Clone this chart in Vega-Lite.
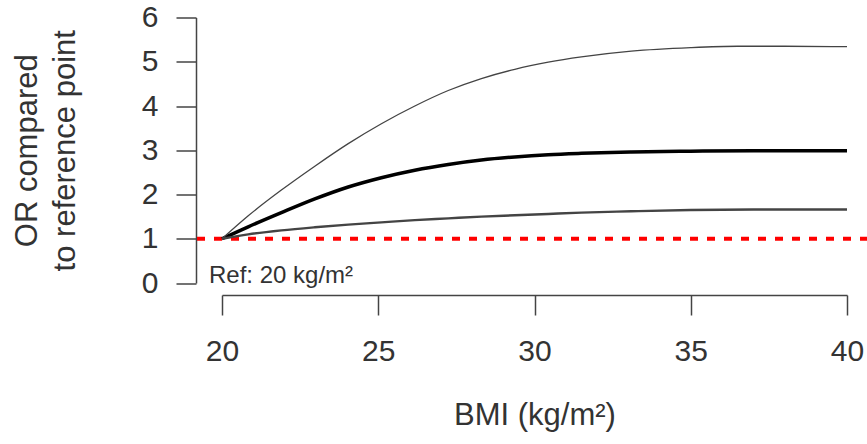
{
  "$schema": "https://vega.github.io/schema/vega-lite/v6.json",
  "autosize": "none",
  "width": 625,
  "height": 265.5,
  "padding": {"left": 222, "top": 17.5, "right": 20, "bottom": 161},
  "background": "white",
  "config": {
    "view": {"stroke": null},
    "font": "Liberation Sans",
    "axis": {"grid": false, "labelFont": "Liberation Sans", "titleFont": "Liberation Sans", "labelFontSize": 30, "titleFontSize": 31, "labelColor": "#333", "titleColor": "#333", "titleFontWeight": "normal", "domainColor": "#444", "tickColor": "#444", "domainWidth": 1.5, "tickWidth": 1.5, "tickSize": 20, "labelFlush": false}
  },
  "datasets": {
    "curves": [
      {"bmi": 20, "or": 1, "series": "Estimate"},
      {"bmi": 20.84, "or": 1.27, "series": "Estimate"},
      {"bmi": 21.9, "or": 1.59, "series": "Estimate"},
      {"bmi": 22.97, "or": 1.9, "series": "Estimate"},
      {"bmi": 24.04, "or": 2.17, "series": "Estimate"},
      {"bmi": 25.1, "or": 2.38, "series": "Estimate"},
      {"bmi": 26.17, "or": 2.55, "series": "Estimate"},
      {"bmi": 27.24, "or": 2.68, "series": "Estimate"},
      {"bmi": 28.3, "or": 2.78, "series": "Estimate"},
      {"bmi": 29.37, "or": 2.85, "series": "Estimate"},
      {"bmi": 30.44, "or": 2.9, "series": "Estimate"},
      {"bmi": 31.5, "or": 2.93, "series": "Estimate"},
      {"bmi": 33.1, "or": 2.96, "series": "Estimate"},
      {"bmi": 35, "or": 2.98, "series": "Estimate"},
      {"bmi": 37, "or": 2.99, "series": "Estimate"},
      {"bmi": 40, "or": 2.99, "series": "Estimate"},
      {"bmi": 20, "or": 1, "series": "Upper"},
      {"bmi": 20.84, "or": 1.52, "series": "Upper"},
      {"bmi": 21.9, "or": 2.1, "series": "Upper"},
      {"bmi": 22.97, "or": 2.64, "series": "Upper"},
      {"bmi": 24.04, "or": 3.15, "series": "Upper"},
      {"bmi": 25.1, "or": 3.6, "series": "Upper"},
      {"bmi": 26.17, "or": 4.0, "series": "Upper"},
      {"bmi": 27.24, "or": 4.35, "series": "Upper"},
      {"bmi": 28.3, "or": 4.62, "series": "Upper"},
      {"bmi": 29.37, "or": 4.83, "series": "Upper"},
      {"bmi": 30.44, "or": 4.99, "series": "Upper"},
      {"bmi": 31.5, "or": 5.11, "series": "Upper"},
      {"bmi": 33.1, "or": 5.24, "series": "Upper"},
      {"bmi": 35, "or": 5.32, "series": "Upper"},
      {"bmi": 36.5, "or": 5.35, "series": "Upper"},
      {"bmi": 38, "or": 5.35, "series": "Upper"},
      {"bmi": 40, "or": 5.34, "series": "Upper"},
      {"bmi": 20, "or": 1, "series": "Lower"},
      {"bmi": 20.84, "or": 1.1, "series": "Lower"},
      {"bmi": 21.9, "or": 1.19, "series": "Lower"},
      {"bmi": 22.97, "or": 1.26, "series": "Lower"},
      {"bmi": 24.04, "or": 1.32, "series": "Lower"},
      {"bmi": 25.1, "or": 1.37, "series": "Lower"},
      {"bmi": 26.17, "or": 1.42, "series": "Lower"},
      {"bmi": 27.24, "or": 1.46, "series": "Lower"},
      {"bmi": 28.3, "or": 1.5, "series": "Lower"},
      {"bmi": 29.37, "or": 1.53, "series": "Lower"},
      {"bmi": 30.44, "or": 1.56, "series": "Lower"},
      {"bmi": 31.5, "or": 1.59, "series": "Lower"},
      {"bmi": 33.1, "or": 1.62, "series": "Lower"},
      {"bmi": 35, "or": 1.65, "series": "Lower"},
      {"bmi": 37, "or": 1.66, "series": "Lower"},
      {"bmi": 40, "or": 1.66, "series": "Lower"}
    ],
    "refline": [{"or": 1, "start": 19.2, "end": 40.8}],
    "note": [{"bmi": 20, "or": 0, "label": "Ref: 20 kg/m²"}]
  },
  "layer": [
    {
      "data": {"name": "refline"},
      "mark": {"type": "rule", "color": "#ff0000", "strokeWidth": 4, "strokeDash": [8, 9]},
      "encoding": {
        "x": {"field": "start", "type": "quantitative"},
        "x2": {"field": "end"},
        "y": {"field": "or", "type": "quantitative"}
      }
    },
    {
      "data": {"name": "curves"},
      "mark": {"type": "line", "interpolate": "monotone"},
      "encoding": {
        "x": {
          "field": "bmi", "type": "quantitative",
          "scale": {"domain": [20, 40], "nice": false, "zero": false},
          "axis": {"values": [20, 25, 30, 35, 40], "title": "BMI (kg/m²)", "offset": 12, "labelPadding": 21, "titlePadding": 34}
        },
        "y": {
          "field": "or", "type": "quantitative",
          "scale": {"domain": [0, 6], "nice": false},
          "axis": {"values": [0, 1, 2, 3, 4, 5, 6], "title": ["OR compared", "to reference point"], "titleLineHeight": 38, "offset": 26, "labelPadding": 18, "titlePadding": 60}
        },
        "detail": {"field": "series"},
        "color": {"field": "series", "type": "nominal", "scale": {"domain": ["Estimate", "Lower", "Upper"], "range": ["#000000", "#444444", "#444444"]}, "legend": null},
        "strokeWidth": {"field": "series", "type": "nominal", "scale": {"domain": ["Estimate", "Lower", "Upper"], "range": [3.5, 1.3, 1.3]}, "legend": null}
      }
    },
    {
      "data": {"name": "note"},
      "mark": {"type": "text", "align": "left", "baseline": "alphabetic", "dx": -13, "fontSize": 24, "color": "#333", "font": "Liberation Sans"},
      "encoding": {
        "x": {"field": "bmi", "type": "quantitative"},
        "y": {"field": "or", "type": "quantitative"},
        "text": {"field": "label"}
      }
    }
  ]
}
